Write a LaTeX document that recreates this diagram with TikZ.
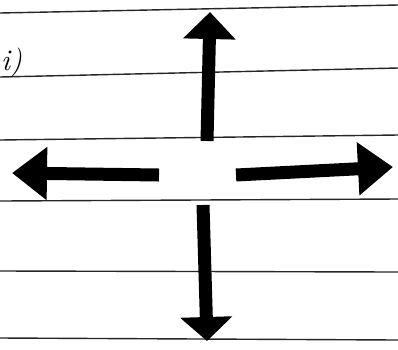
\documentclass[tikz,border=0pt]{standalone}
\usepackage{tikz}
\usetikzlibrary{arrows.meta}

\begin{document}
\begin{tikzpicture}[x=1pt, y=-1pt,
    ruleline/.style={line width=1.4pt, black!85},
    arrowbar/.style={line width=13pt, black, -{Triangle[length=#1, width=51pt]}},
    arrowbar/.default=27pt]
    \useasboundingbox[fill=white] (0,0) rectangle (398,349);

    % ruled lines of the page
    \foreach \yl/\yr in {13/5, 77/68, 140/135, 201/199, 271/272, 338/340} {
        \draw[ruleline] (0,\yl) -- (398,\yr);
    }

    % label
    \node[anchor=base west, inner sep=0pt, font=\fontsize{30}{34}\selectfont\itshape] (label) at (1,70) {i)};

    % arrow ends
    \coordinate (upstart) at (207,141);
    \coordinate (uptip) at (210,12);
    \coordinate (downstart) at (203,205);
    \coordinate (downtip) at (207,341);
    \coordinate (leftstart) at (159,175);
    \coordinate (lefttip) at (12,173);
    \coordinate (rightstart) at (236,175);
    \coordinate (righttip) at (393,167);

    % arrows
    \draw[arrowbar] (upstart) -- (uptip);
    \draw[arrowbar=24pt] (downstart) -- (downtip);
    \draw[arrowbar=35pt] (leftstart) -- (lefttip);
    \draw[arrowbar=35pt] (rightstart) -- (righttip);
\end{tikzpicture}
\end{document}
